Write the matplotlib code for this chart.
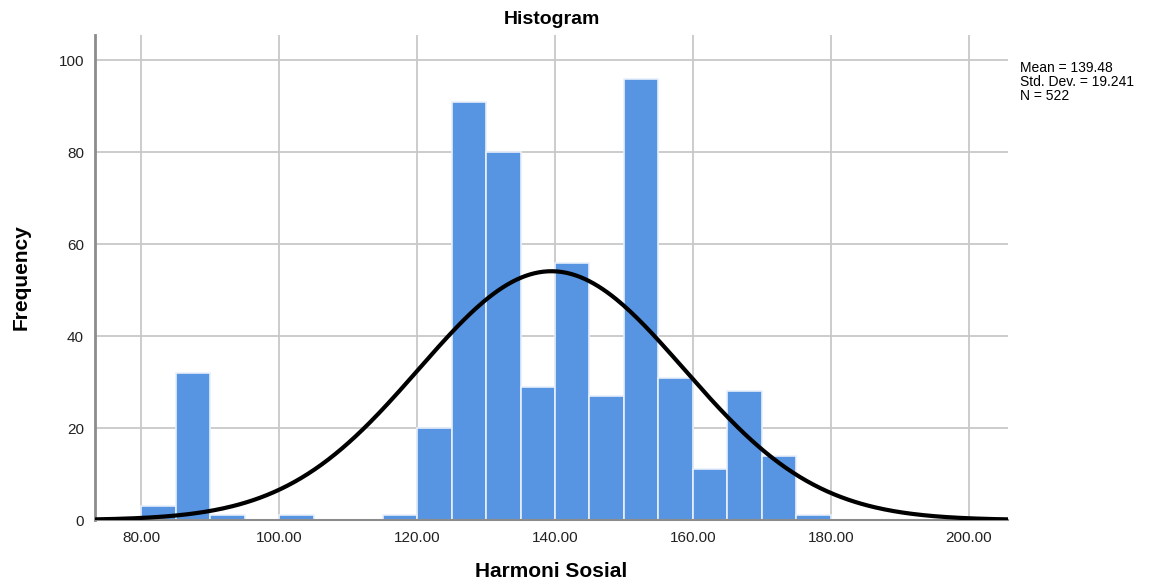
import numpy as np
import matplotlib.pyplot as plt

# Datos del histograma
bin_edges = np.arange(80, 185, 5)
counts = [3, 32, 1, 0, 1, 0, 0, 1, 20, 91, 80, 29, 56, 27, 96, 31, 11, 28, 14, 1]
mean = 139.48
std = 19.241
n = 522
xticks = [80, 100, 120, 140, 160, 180, 200]
yticks = [0, 20, 40, 60, 80, 100]

plt.rcParams['font.family'] = ['Liberation Sans', 'DejaVu Sans']

fig = plt.figure(figsize=(11.69, 5.83), dpi=100)
ax = fig.add_axes([0.0813, 0.108, 0.781, 0.832])

width = np.diff(bin_edges)
ax.bar(bin_edges[:-1], counts, width=width, align='edge',
       color='#5795e3', edgecolor='#e8f0fb', linewidth=1.2, zorder=2)

# Curva normal escalada
x = np.linspace(73.3, 205.7, 400)
bw = 5
y = n * bw / (std * np.sqrt(2 * np.pi)) * np.exp(-0.5 * ((x - mean) / std) ** 2)
ax.plot(x, y, color='black', lw=3, zorder=3, solid_capstyle='round')

ax.set_xlim(73.3, 205.7)
ax.set_ylim(0, 105.5)
ax.set_xticks(xticks)
ax.set_xticklabels([f"{v:.2f}" for v in xticks])
ax.set_yticks(yticks)
ax.tick_params(length=0, labelsize=11, colors='#222222', pad=8)
ax.grid(True, color='#c8c8c8', lw=1.3, zorder=0)
ax.set_axisbelow(True)

for s in ['top', 'right']:
    ax.spines[s].set_visible(False)
ax.spines['left'].set_color('#8c8c8c')
ax.spines['left'].set_linewidth(2)
ax.spines['bottom'].set_color('#8c8c8c')
ax.spines['bottom'].set_linewidth(1.5)

ax.set_title("Histogram", fontsize=14, fontweight='bold', pad=8)
ax.set_xlabel("Harmoni Sosial", fontsize=15, fontweight='bold', labelpad=12)
ax.set_ylabel("Frequency", fontsize=15, fontweight='bold', labelpad=20)

fig.text(1020 / 1169, 1 - 61 / 583,
         f"Mean = {mean:.2f}\nStd. Dev. = {std:.3f}\nN = {n}",
         fontsize=10, va='top', ha='left', linespacing=1.0)

fig.savefig("out.png", dpi=100)
